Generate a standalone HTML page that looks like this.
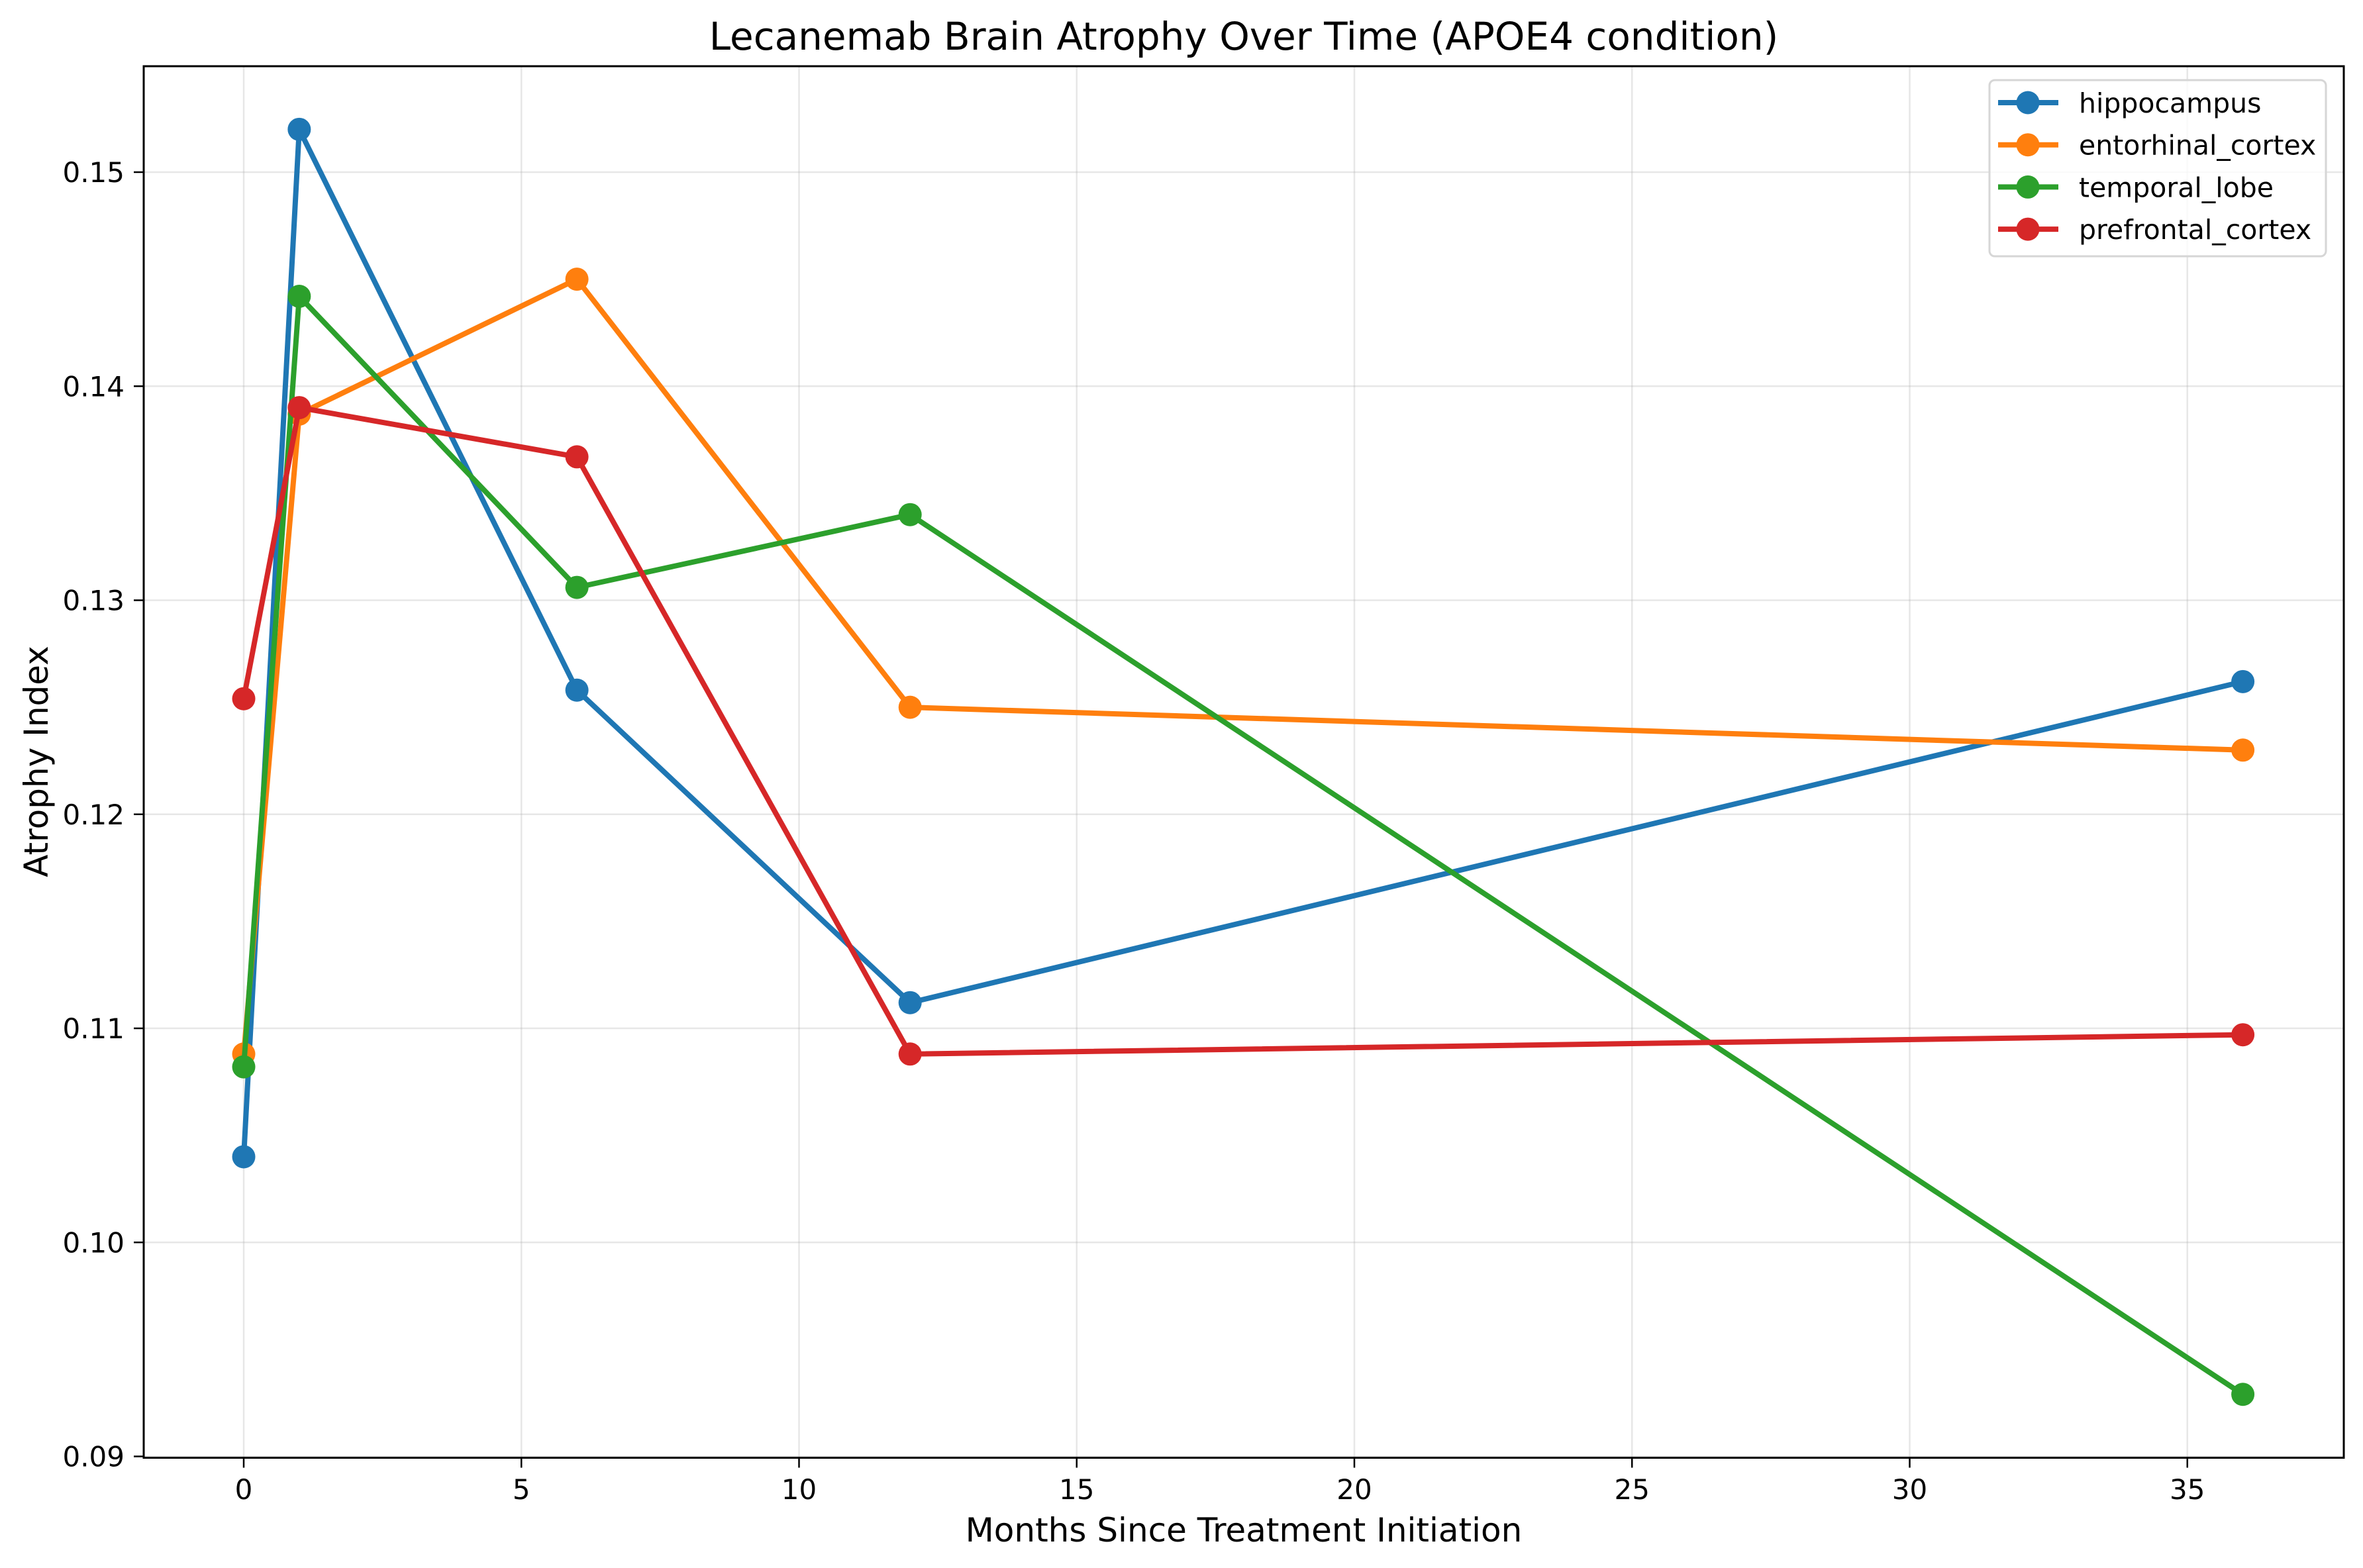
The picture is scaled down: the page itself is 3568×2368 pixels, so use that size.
<!DOCTYPE html>
<html><head><meta charset="utf-8"><style>
html,body{margin:0;padding:0;background:#fff;}
svg{display:block;font-family:"DejaVu Sans","Liberation Sans",sans-serif;}
</style></head><body>
<svg id="chart" width="3568" height="2368" viewBox="0 0 3568 2368" xmlns="http://www.w3.org/2000/svg">
<rect width="3568" height="2368" fill="#fff"/>
<text x="1878" y="75" font-size="58" text-anchor="middle">Lecanemab Brain Atrophy Over Time (APOE4 condition)</text>
<g id="grid"></g>
<g id="series"></g>
<rect x="217" y="100" width="3322" height="2101.5" fill="none" stroke="#000" stroke-width="3"/>
<g id="axes"></g>
<text x="1878" y="2328" font-size="50" text-anchor="middle">Months Since Treatment Initiation</text>
<text transform="translate(72,1150) rotate(-90)" font-size="50" text-anchor="middle">Atrophy Index</text>
<g id="legend"></g>
</svg>
<script>
const months = [0, 1, 6, 12, 36];
const seriesNames = ["hippocampus", "entorhinal_cortex", "temporal_lobe", "prefrontal_cortex"];
const hippocampus = [0.1040, 0.1520, 0.1258, 0.1112, 0.1262];
const entorhinalCortex = [0.1088, 0.1387, 0.1450, 0.1250, 0.1230];
const temporalLobe = [0.1082, 0.1442, 0.1306, 0.1340, 0.0929];
const prefrontalCortex = [0.1254, 0.1390, 0.1367, 0.1088, 0.1097];
const xTicks = [0, 5, 10, 15, 20, 25, 30, 35];
const yTicks = [0.09, 0.10, 0.11, 0.12, 0.13, 0.14, 0.15];
const yTickLabels = ["0.09", "0.10", "0.11", "0.12", "0.13", "0.14", "0.15"];

const colors = ["#1f77b4", "#ff7f0e", "#2ca02c", "#d62728"];
const allSeries = [hippocampus, entorhinalCortex, temporalLobe, prefrontalCortex];
const NS = "http://www.w3.org/2000/svg";
const L = 217, R = 3539, T = 100, B = 2201.5;
function xs(v) { return 368 + v * 83.85; }
function ys(v) { return 2199.5 - (v - 0.09) * 32325; }
function mk(tag, attrs, parent) {
  const e = document.createElementNS(NS, tag);
  for (const k in attrs) e.setAttribute(k, attrs[k]);
  parent.appendChild(e); return e;
}
const grid = document.getElementById("grid"), axes = document.getElementById("axes");
xTicks.forEach(t => {
  const x = xs(t);
  const g = mk("line", {x1: x, x2: x, y1: T, y2: B, stroke: "#b0b0b0", "stroke-opacity": 0.3, "stroke-width": 2.5}, grid);
  
  
  const tk = mk("line", {x1: x, x2: x, y1: B, y2: B + 15, stroke: "#000", "stroke-width": 2.5}, axes);
  
  
  const lb = mk("text", {x: x, y: 2264, "font-size": 42, "text-anchor": "middle"}, axes);
  lb.textContent = String(t);
  
  
});
yTicks.forEach((t, i) => {
  const y = ys(t);
  const g = mk("line", {x1: L, x2: R, y1: y, y2: y, stroke: "#b0b0b0", "stroke-opacity": 0.3, "stroke-width": 2.5}, grid);
  
  
  const tk = mk("line", {x1: L - 15, x2: L, y1: y, y2: y, stroke: "#000", "stroke-width": 2.5}, axes);
  
  
  const lb = mk("text", {x: 188, y: y + 15, "font-size": 42, "text-anchor": "end"}, axes);
  lb.textContent = yTickLabels[i];
  
  
});
const sg = document.getElementById("series");
allSeries.forEach((vals, si) => {
  const g = mk("g", {}, sg);
  
  
  const pts = vals.map((v, i) => xs(months[i]) + "," + ys(v)).join(" ");
  const pl = mk("polyline", {points: pts, fill: "none", stroke: colors[si], "stroke-width": 8, "stroke-linejoin": "round"}, g);
  
  
  vals.forEach((v, i) => {
    const c = mk("circle", {cx: xs(months[i]), cy: ys(v), r: 17.5, fill: colors[si]}, g);
    
    
  });
});
const lg = document.getElementById("legend");
const box = mk("rect", {x: 3004, y: 121, width: 508, height: 266, rx: 8, fill: "#fff", "fill-opacity": 0.8, stroke: "#d6d6d6", "stroke-width": 3}, lg);


seriesNames.forEach((n, i) => {
  const y = 155 + i * 63.7;
  const g = mk("g", {}, lg);
  
  
  mk("line", {x1: 3017, x2: 3108, y1: y, y2: y, stroke: colors[i], "stroke-width": 8}, g);
  mk("circle", {cx: 3062, cy: y, r: 17.5, fill: colors[i]}, g);
  const t = mk("text", {x: 3139, y: y + 15, "font-size": 41}, g);
  t.textContent = n;
});
</script>
</body></html>
